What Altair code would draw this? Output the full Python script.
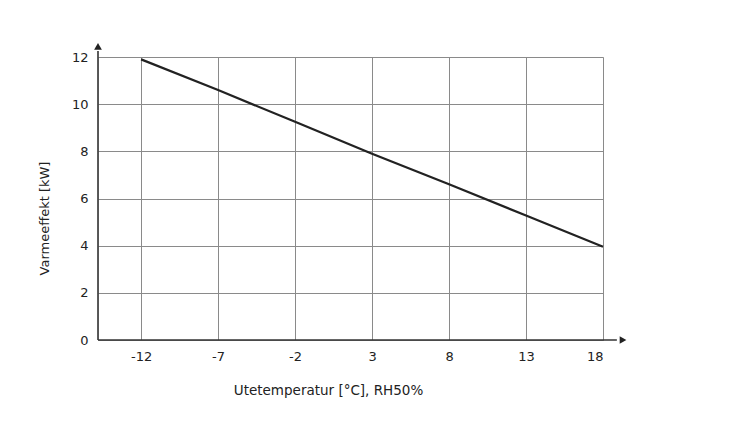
import altair as alt
import pandas as pd

temps = [-12, -7, -2, 3, 8, 13, 18]
power = [11.9, 10.6, 9.25, 7.9, 6.6, 5.28, 3.95]
x_ticks = [-12, -7, -2, 3, 8, 13, 18]
y_ticks = [0, 2, 4, 6, 8, 10, 12]
x_min, x_max, x_arrow = -14.8, 18, 19.3
y_min, y_max, y_arrow = 0, 12, 12.45

df = pd.DataFrame({"t": temps, "p": power})
FONT = "DejaVu Sans"

xs = alt.Scale(domain=[x_min, x_max], nice=False, zero=False)
ys = alt.Scale(domain=[y_min, y_max], nice=False, zero=False)

base = alt.Chart(df)

line = base.mark_line(color="#222222", strokeWidth=2.2, clip=False).encode(
    x=alt.X("t:Q", scale=xs, axis=alt.Axis(
        values=x_ticks, grid=True, gridColor="#8a8a8a", gridWidth=1,
        labelExpr="toString(datum.value)",
        ticks=False, domain=False, labelFont=FONT, labelFontSize=13,
        labelColor="#222", labelPadding=10,
        title="Utetemperatur [°C], RH50%", titleFont=FONT, titleFontSize=13.5,
        titleFontWeight="normal", titleColor="#222",
        titleX=230, titleY=43, titleAnchor="middle")),
    y=alt.Y("p:Q", scale=ys, axis=alt.Axis(
        values=y_ticks, grid=True, gridColor="#8a8a8a", gridWidth=1,
        ticks=False, domain=False, labelFont=FONT, labelFontSize=13,
        labelColor="#222", labelPadding=10,
        title="Varmeeffekt [kW]", titleFont=FONT, titleFontSize=13,
        titleFontWeight="normal", titleColor="#222",
        titleX=-47, titleY=161, titleAnchor="middle")),
)

xaxis_df = pd.DataFrame({"x1": [x_min], "x2": [x_arrow - 0.4], "y": [0]})
xaxis = alt.Chart(xaxis_df).mark_rule(color="#333", strokeWidth=1.6, clip=False).encode(
    x=alt.X("x1:Q", scale=xs), x2="x2:Q", y=alt.Y("y:Q", scale=ys))

yaxis_df = pd.DataFrame({"x": [x_min], "y1": [0], "y2": [y_arrow - 0.2]})
yaxis = alt.Chart(yaxis_df).mark_rule(color="#333", strokeWidth=1.6, clip=False).encode(
    x=alt.X("x:Q", scale=xs), y=alt.Y("y1:Q", scale=ys), y2="y2:Q")

xarr = alt.Chart(pd.DataFrame({"x": [x_arrow], "y": [0]})).mark_point(
    shape="triangle-right", filled=True, color="#222", size=60, opacity=1, clip=False).encode(
    x=alt.X("x:Q", scale=xs), y=alt.Y("y:Q", scale=ys))
yarr = alt.Chart(pd.DataFrame({"x": [x_min], "y": [y_arrow]})).mark_point(
    shape="triangle-up", filled=True, color="#222", size=60, opacity=1, clip=False).encode(
    x=alt.X("x:Q", scale=xs), y=alt.Y("y:Q", scale=ys))

chart = alt.layer(line, xaxis, yaxis, xarr, yarr).properties(
    width=505, height=283,
    autosize=alt.AutoSizeParams(type="none"),
    padding={"left": 90, "top": 49, "right": 130, "bottom": 80},
).configure_view(stroke=None).configure(background="white")

chart.save("out.html", embed_options={"renderer": "svg", "actions": False})
